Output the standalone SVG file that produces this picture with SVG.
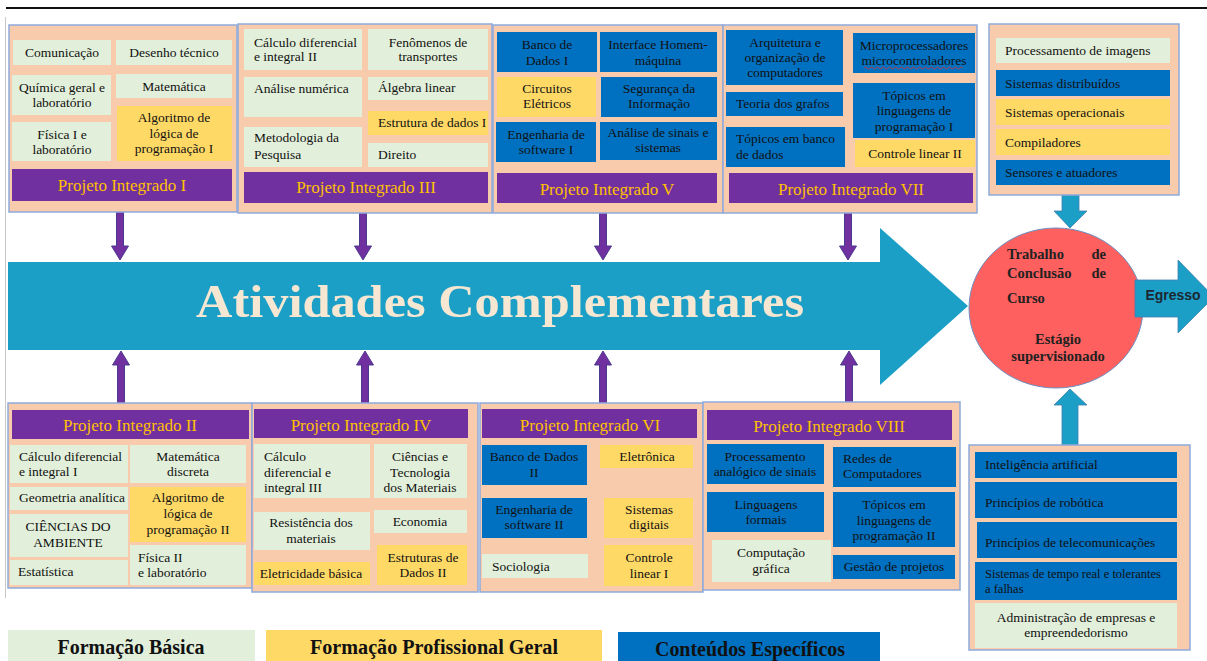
<svg xmlns="http://www.w3.org/2000/svg" width="1207" height="661" viewBox="0 0 1207 661">
<style>
.panel{fill:#f8cbad;stroke:#8eaadb;stroke-width:1.5}
.g{fill:#e2efda}
.y{fill:#ffd966}
.b{fill:#0070c0}
.pi{fill:#7030a0}
.t{font-family:"Liberation Serif","Times New Roman",serif;font-size:13.5px;fill:#111}
.c{text-anchor:middle}
.pit{font-family:"Liberation Serif","Times New Roman",serif;font-size:17px;fill:#ffc000;text-anchor:middle}
.con{fill:#7030a0;stroke:#4b3b8f;stroke-width:1}
.teal{fill:#1c9fc6;stroke:#3f7fb0;stroke-width:0.8}
.ct{font-family:"Liberation Serif","Times New Roman",serif;font-size:14.5px;font-weight:bold;fill:#222}
.lg{font-family:"Liberation Serif","Times New Roman",serif;font-size:20px;font-weight:bold;fill:#111;text-anchor:middle}
</style>
<rect width="1207" height="661" fill="#ffffff"/>
<line x1="6" y1="8" x2="1207" y2="8" stroke="#111" stroke-width="2"/>
<line x1="5.5" y1="17" x2="5.5" y2="598" stroke="#c8c8c8" stroke-width="1"/>

<!-- Main arrow -->
<g id="atividades">
<polygon points="8,262 880,262 880,228 968,306 880,385 880,350 8,350" fill="#1c9fc6"/>
<text x="500" y="317" text-anchor="middle" font-family="'Liberation Serif','Times New Roman',serif" font-size="46" font-weight="bold" fill="#f6e7d2" textLength="608" lengthAdjust="spacingAndGlyphs">Atividades Complementares</text>
</g>

<!-- Connectors -->
<g id="connectors">
<polygon class="con" points="116.5,201 123.5,201 123.5,246 128.5,246 120,260 111.5,246 116.5,246"/>
<polygon class="con" points="359.5,203 366.5,203 366.5,246 371.5,246 363,260 354.5,246 359.5,246"/>
<polygon class="con" points="599.5,203 606.5,203 606.5,246 611.5,246 603,260 594.5,246 599.5,246"/>
<polygon class="con" points="844.5,203 851.5,203 851.5,246 856.5,246 848,260 839.5,246 844.5,246"/>
<polygon class="con" points="117.5,410 124.5,410 124.5,365 129.5,365 121,351 112.5,365 117.5,365"/>
<polygon class="con" points="361.5,409 368.5,409 368.5,365 373.5,365 365,351 356.5,365 361.5,365"/>
<polygon class="con" points="599.5,409 606.5,409 606.5,365 611.5,365 603,351 594.5,365 599.5,365"/>
<polygon class="con" points="845.5,410 852.5,410 852.5,365 857.5,365 849,351 840.5,365 845.5,365"/>
<polygon class="teal" points="1062,195 1079,195 1079,211 1087,211 1070,228 1054,211 1062,211"/>
<polygon class="teal" points="1062,445 1078,445 1078,405 1087,405 1070,389 1054,405 1062,405"/>
</g>

<!-- Circle TCC -->
<g id="tcc">
<ellipse cx="1056" cy="308" rx="87" ry="80" fill="#fe5f5f" stroke="#6d8fc0" stroke-width="1"/>
<text class="ct" x="1007" y="259">Trabalho</text>
<text class="ct" x="1106" y="259" text-anchor="end">de</text>
<text class="ct" x="1007" y="278">Conclusão</text>
<text class="ct" x="1106" y="278" text-anchor="end">de</text>
<text class="ct" x="1007" y="303">Curso</text>
<text class="ct" x="1058" y="344" text-anchor="middle">Estágio</text>
<text class="ct" x="1058" y="361" text-anchor="middle">supervisionado</text>
</g>

<!-- Egresso -->
<g id="egresso">
<polygon points="1135,280 1178,280 1178,260 1214,297 1178,333 1178,317 1135,317" fill="#1c9fc6" stroke="#3f7fb0" stroke-width="0.8"/>
<text x="1173" y="300" text-anchor="middle" font-family="'Liberation Sans',Arial,sans-serif" font-size="14" font-weight="bold" fill="#1c2733">Egresso</text>
</g>

<!-- Panel 1 -->
<g id="pi1">
<rect class="panel" x="9" y="25" width="228" height="187"/>
<g id="comunicacao"><rect class="g" x="13" y="40" width="98" height="25"/><text class="t c" x="62" y="57">Comunicação</text></g>
<g id="desenho"><rect class="g" x="116" y="40" width="116" height="25"/><text class="t c" x="174" y="57">Desenho técnico</text></g>
<g id="quimica"><rect class="g" x="12" y="75" width="99" height="40"/><text class="t c" x="62" y="92">Química geral e</text><text class="t c" x="62" y="107">laboratório</text></g>
<g id="matematica"><rect class="g" x="116" y="74" width="116" height="24"/><text class="t c" x="174" y="91">Matemática</text></g>
<g id="alg1"><rect class="y" x="117" y="106" width="115" height="55"/><text class="t c" x="174" y="122">Algoritmo de</text><text class="t c" x="174" y="138">lógica de</text><text class="t c" x="174" y="153">programação I</text></g>
<g id="fisica1"><rect class="g" x="12" y="122" width="99" height="39"/><text class="t c" x="62" y="139">Física I e</text><text class="t c" x="62" y="154">laboratório</text></g>
<g id="pi1bar"><rect class="pi" x="12" y="169" width="220" height="32"/><text class="pit" x="122" y="191">Projeto Integrado I</text></g>
</g>

<!-- Panel 3 -->
<g id="pi3">
<rect class="panel" x="238" y="24" width="254" height="189"/>
<g id="calc2"><rect class="g" x="244" y="29" width="118" height="41"/><text class="t" x="254" y="47">Cálculo diferencial</text><text class="t" x="254" y="61">e integral II</text></g>
<g id="fenomenos"><rect class="g" x="368" y="29" width="120" height="41"/><text class="t c" x="428" y="47">Fenômenos de</text><text class="t c" x="428" y="61">transportes</text></g>
<g id="analise"><rect class="g" x="244" y="77" width="118" height="40"/><text class="t" x="254" y="93">Análise numérica</text></g>
<g id="algebra"><rect class="g" x="368" y="77" width="120" height="23"/><text class="t" x="378" y="92">Álgebra linear</text></g>
<g id="ed1"><rect class="y" x="368" y="111" width="120" height="24"/><text class="t" x="378" y="127">Estrutura de dados I</text></g>
<g id="metodologia"><rect class="g" x="244" y="127" width="118" height="40"/><text class="t" x="254" y="142">Metodologia da</text><text class="t" x="254" y="159">Pesquisa</text></g>
<g id="direito"><rect class="g" x="368" y="143" width="120" height="24"/><text class="t" x="378" y="159">Direito</text></g>
<g id="pi3bar"><rect class="pi" x="244" y="172" width="244" height="31"/><text class="pit" x="366" y="193">Projeto Integrado III</text></g>
</g>

<!-- Panel 5 -->
<g id="pi5">
<rect class="panel" x="493" y="25" width="230" height="188"/>
<g id="bd1"><rect class="b" x="497" y="32" width="100" height="40"/><text class="t c" x="547" y="49">Banco de</text><text class="t c" x="547" y="65">Dados I</text></g>
<g id="ihm"><rect class="b" x="600" y="32" width="117" height="40"/><text class="t c" x="658" y="49">Interface Homem-</text><text class="t c" x="658" y="65">máquina</text></g>
<g id="circuitos"><rect class="y" x="497" y="77" width="99" height="40"/><text class="t c" x="547" y="93">Circuitos</text><text class="t c" x="547" y="108">Elétricos</text></g>
<g id="seguranca"><rect class="b" x="601" y="77" width="116" height="40"/><text class="t c" x="659" y="93">Segurança da</text><text class="t c" x="659" y="108">Informação</text></g>
<g id="es1"><rect class="b" x="496" y="122" width="100" height="40"/><text class="t c" x="546" y="139">Engenharia de</text><text class="t c" x="546" y="154">software I</text></g>
<g id="sinais"><rect class="b" x="600" y="122" width="117" height="38"/><text class="t c" x="658" y="137">Análise de sinais e</text><text class="t c" x="658" y="152">sistemas</text></g>
<g id="pi5bar"><rect class="pi" x="497" y="173" width="220" height="30"/><text class="pit" x="607" y="195">Projeto Integrado V</text></g>
</g>

<!-- Panel 7 -->
<g id="pi7">
<rect class="panel" x="723" y="25" width="254" height="188"/>
<g id="arquitetura"><rect class="b" x="726" y="30" width="117" height="55"/><text class="t c" x="785" y="47">Arquitetura e</text><text class="t c" x="785" y="62">organização de</text><text class="t c" x="785" y="77">computadores</text></g>
<g id="micro"><rect class="b" x="853" y="33" width="122" height="40"/><text class="t c" x="914" y="50">Microprocessadores</text><text class="t c" x="914" y="65">microcontroladores</text><path d="M864,68 q1.5,-2 3,0 t3,0 t3,0 t3,0 t3,0 t3,0 t3,0 t3,0 t3,0 t3,0 t3,0 t3,0 t3,0 t3,0 t3,0 t3,0 t3,0 t3,0 t3,0 t3,0 t3,0 t3,0 t3,0 t3,0 t3,0 t3,0 t3,0 t3,0 t3,0 t3,0 t3,0 t3,0 t3,0" fill="none" stroke="#e03030" stroke-width="0.8"/></g>
<g id="grafos"><rect class="b" x="726" y="92" width="117" height="24"/><text class="t" x="736" y="108">Teoria dos grafos</text></g>
<g id="tlp1"><rect class="b" x="853" y="83" width="122" height="55"/><text class="t c" x="914" y="100">Tópicos em</text><text class="t c" x="914" y="115">linguagens de</text><text class="t c" x="914" y="131">programação I</text></g>
<g id="tbd"><rect class="b" x="726" y="127" width="119" height="40"/><text class="t" x="736" y="143">Tópicos em banco</text><text class="t" x="736" y="159">de dados</text></g>
<g id="cl2"><rect class="y" x="855" y="140" width="120" height="27"/><text class="t c" x="915" y="158">Controle linear II</text></g>
<g id="pi7bar"><rect class="pi" x="729" y="173" width="244" height="30"/><text class="pit" x="851" y="195">Projeto Integrado VII</text></g>
</g>

<!-- Right top panel -->
<g id="optativas1">
<rect class="panel" x="989" y="24" width="190" height="171"/>
<g id="procimg"><rect class="g" x="996" y="38" width="174" height="25"/><text class="t" x="1005" y="55">Processamento de imagens</text></g>
<g id="sistdist"><rect class="b" x="996" y="70" width="174" height="26"/><text class="t" x="1005" y="88">Sistemas distribuídos</text></g>
<g id="sistop"><rect class="y" x="996" y="99" width="174" height="26"/><text class="t" x="1005" y="117">Sistemas operacionais</text></g>
<g id="compiladores"><rect class="y" x="996" y="129" width="174" height="26"/><text class="t" x="1005" y="147">Compiladores</text></g>
<g id="sensores"><rect class="b" x="996" y="160" width="174" height="25"/><text class="t" x="1005" y="177">Sensores e atuadores</text></g>
</g>

<!-- Panel 2 -->
<g id="pi2">
<rect class="panel" x="8" y="403" width="244" height="185"/>
<g id="pi2bar"><rect class="pi" x="12" y="410" width="237" height="29"/><text class="pit" x="130" y="431">Projeto Integrado II</text></g>
<g id="calc1"><rect class="g" x="10" y="445" width="118" height="38"/><text class="t" x="19" y="461">Cálculo diferencial</text><text class="t" x="19" y="476">e integral I</text></g>
<g id="discreta"><rect class="g" x="130" y="445" width="116" height="38"/><text class="t c" x="188" y="461">Matemática</text><text class="t c" x="188" y="476">discreta</text></g>
<g id="geometria"><rect class="g" x="10" y="487" width="118" height="23"/><text class="t" x="19" y="502">Geometria analítica</text></g>
<g id="alg2"><rect class="y" x="130" y="487" width="116" height="55"/><text class="t c" x="188" y="502">Algoritmo de</text><text class="t c" x="188" y="518">lógica de</text><text class="t c" x="188" y="534">programação II</text></g>
<g id="ambiente"><rect class="g" x="10" y="514" width="118" height="43"/><text class="t c" x="68" y="531">CIÊNCIAS DO</text><text class="t c" x="68" y="547">AMBIENTE</text></g>
<g id="fisica2"><rect class="g" x="130" y="545" width="116" height="40"/><text class="t" x="138" y="562">Física II</text><text class="t" x="138" y="577">e laboratório</text></g>
<g id="estatistica"><rect class="g" x="10" y="560" width="118" height="25"/><text class="t" x="18" y="576">Estatística</text></g>
</g>

<!-- Panel 4 -->
<g id="pi4">
<rect class="panel" x="252" y="403" width="226" height="189"/>
<g id="pi4bar"><rect class="pi" x="254" y="409" width="214" height="29"/><text class="pit" x="361" y="431">Projeto Integrado IV</text></g>
<g id="calc3"><rect class="g" x="254" y="444" width="116" height="54"/><text class="t" x="264" y="461">Cálculo</text><text class="t" x="264" y="477">diferencial e</text><text class="t" x="264" y="492">integral III</text></g>
<g id="materiais"><rect class="g" x="374" y="444" width="93" height="54"/><text class="t c" x="420" y="461">Ciências e</text><text class="t c" x="420" y="477">Tecnologia</text><text class="t c" x="420" y="492">dos Materiais</text></g>
<g id="resistencia"><rect class="g" x="254" y="512" width="116" height="38"/><text class="t c" x="311" y="527">Resistência dos</text><text class="t c" x="311" y="543">materiais</text></g>
<g id="economia"><rect class="g" x="374" y="510" width="93" height="23"/><text class="t c" x="420" y="526">Economia</text></g>
<g id="eletricidade"><rect class="y" x="254" y="562" width="116" height="23"/><text class="t c" x="311" y="578">Eletricidade básica</text></g>
<g id="ed2"><rect class="y" x="377" y="545" width="90" height="40"/><text class="t c" x="423" y="562">Estruturas de</text><text class="t c" x="423" y="577">Dados II</text></g>
</g>

<!-- Panel 6 -->
<g id="pi6">
<rect class="panel" x="480" y="403" width="223" height="189"/>
<g id="pi6bar"><rect class="pi" x="482" y="409" width="215" height="29"/><text class="pit" x="590" y="431">Projeto Integrado VI</text></g>
<g id="bd2"><rect class="b" x="482" y="445" width="105" height="40"/><text class="t c" x="534" y="461">Banco de Dados</text><text class="t c" x="534" y="477">II</text></g>
<g id="eletronica"><rect class="y" x="600" y="445" width="93" height="23"/><text class="t c" x="647" y="461">Eletrônica</text></g>
<g id="es2"><rect class="b" x="482" y="498" width="105" height="40"/><text class="t c" x="534" y="514">Engenharia de</text><text class="t c" x="534" y="529">software II</text></g>
<g id="digitais"><rect class="y" x="604" y="498" width="89" height="40"/><text class="t c" x="649" y="514">Sistemas</text><text class="t c" x="649" y="529">digitais</text></g>
<g id="sociologia"><rect class="g" x="482" y="554" width="106" height="24"/><text class="t" x="492" y="571">Sociologia</text></g>
<g id="cl1"><rect class="y" x="604" y="545" width="89" height="41"/><text class="t c" x="649" y="562">Controle</text><text class="t c" x="649" y="578">linear I</text></g>
</g>

<!-- Panel 8 -->
<g id="pi8">
<rect class="panel" x="703" y="402" width="257" height="188"/>
<g id="pi8bar"><rect class="pi" x="707" y="410" width="245" height="30"/><text class="pit" x="829" y="432">Projeto Integrado VIII</text></g>
<g id="pas"><rect class="b" x="707" y="444" width="117" height="40"/><text class="t c" x="765" y="461">Processamento</text><text class="t c" x="765" y="476">analógico de sinais</text></g>
<g id="redes"><rect class="b" x="833" y="447" width="123" height="40"/><text class="t" x="843" y="463">Redes de</text><text class="t" x="843" y="478">Computadores</text></g>
<g id="lf"><rect class="b" x="707" y="492" width="117" height="40"/><text class="t c" x="766" y="509">Linguagens</text><text class="t c" x="766" y="524">formais</text></g>
<g id="tlp2"><rect class="b" x="833" y="492" width="122" height="55"/><text class="t c" x="894" y="509">Tópicos em</text><text class="t c" x="894" y="525">linguagens de</text><text class="t c" x="894" y="540">programação II</text></g>
<g id="cg"><rect class="g" x="712" y="540" width="119" height="42"/><text class="t c" x="771" y="557">Computação</text><text class="t c" x="771" y="573">gráfica</text></g>
<g id="gestao"><rect class="b" x="833" y="555" width="122" height="24"/><text class="t c" x="894" y="571">Gestão de projetos</text></g>
</g>

<!-- Right bottom panel -->
<g id="optativas2">
<rect class="panel" x="969" y="445" width="221" height="205"/>
<g id="ia"><rect class="b" x="975" y="452" width="202" height="26"/><text class="t" x="985" y="469">Inteligência artificial</text></g>
<g id="robotica"><rect class="b" x="975" y="482" width="202" height="36"/><text class="t" x="985" y="507">Princípios de robótica</text></g>
<g id="telecom"><rect class="b" x="977" y="522" width="200" height="36"/><text class="t" x="985" y="547">Princípios de telecomunicações</text></g>
<g id="tempo-real"><rect class="b" x="975" y="562" width="202" height="38"/><text class="t" x="985" y="578" style="font-size:12.5px">Sistemas de tempo real e tolerantes</text><text class="t" x="985" y="593" style="font-size:12.5px">a falhas</text></g>
<g id="admin"><rect class="g" x="975" y="603" width="202" height="45"/><text class="t c" x="1076" y="622">Administração de empresas e</text><text class="t c" x="1076" y="637">empreendedorismo</text></g>
</g>

<!-- Legend -->
<g id="legend">
<g id="leg-basica"><rect x="8" y="630" width="247" height="31" fill="#e2efda"/><text class="lg" x="131" y="654" textLength="147" lengthAdjust="spacingAndGlyphs">Formação Básica</text></g>
<g id="leg-geral"><rect x="266" y="630" width="336" height="31" fill="#ffd966"/><text class="lg" x="434" y="654" textLength="248" lengthAdjust="spacingAndGlyphs">Formação Profissional Geral</text></g>
<g id="leg-especificos"><rect x="618" y="632" width="262" height="29" fill="#0070c0"/><text class="lg" x="750" y="656" textLength="190" lengthAdjust="spacingAndGlyphs">Conteúdos Específicos</text></g>
</g>
</svg>
